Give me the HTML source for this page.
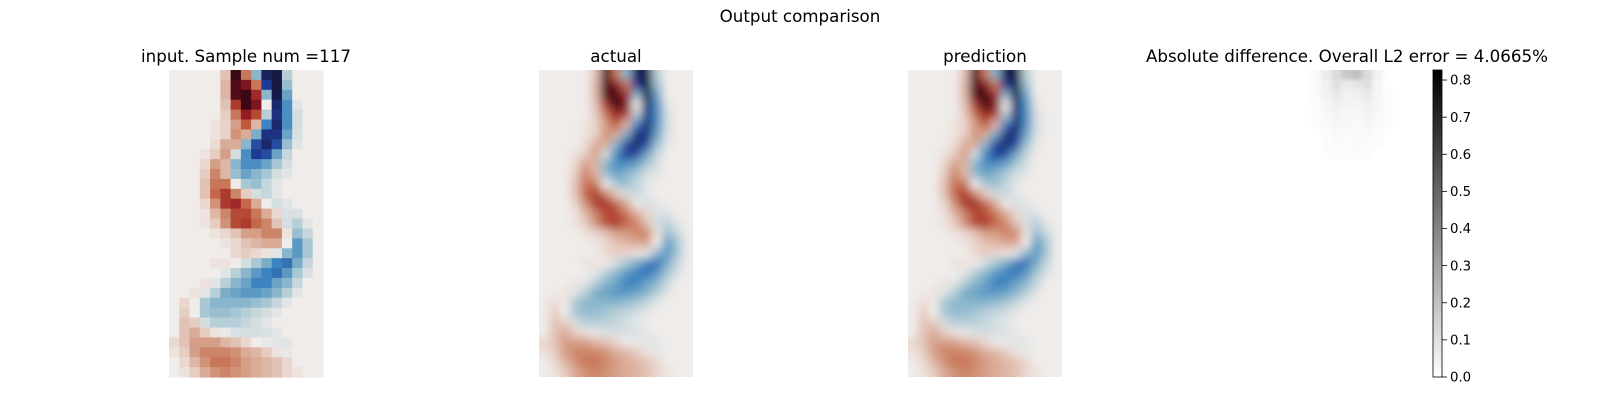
<!DOCTYPE html>
<html><head><meta charset="utf-8"><style>
html,body{margin:0;padding:0;background:#fff;}
svg{display:block;font-family:"DejaVu Sans","Liberation Sans",sans-serif;}
</style></head><body>
<svg id="fig" width="1600" height="400" viewBox="0 0 1600 400">
<defs>
<filter id="blurA" x="-10%" y="-10%" width="120%" height="120%"><feGaussianBlur stdDeviation="4.5"/></filter>
<filter id="blurD" x="-10%" y="-10%" width="120%" height="120%"><feGaussianBlur stdDeviation="2"/></filter>
<linearGradient id="cbgrad" x1="0" y1="1" x2="0" y2="0"><stop offset="0" stop-color="#ffffff"/><stop offset="1" stop-color="#000000"/></linearGradient>
</defs>
<text x="800" y="22" font-size="16.7" text-anchor="middle">Output comparison</text>
<g id="panels"></g>
</svg>
<script>
const inputGrid = [
[0,0,0,0,0,0.2,1.0,0.5,-0.35,-0.95,-1,-0.2,0,0,0],
[0,0,0,0,0,0.25,0.95,0.85,0.5,-0.8,-1,-0.3,0,0,0],
[0,0,0,0,0,0.25,0.95,1,0.75,-0.35,-1,-0.45,0,0,0],
[0,0,0,0,0,0.2,0.7,1,0.85,0,-0.9,-0.55,-0.05,0,0],
[0,0,0,0,0,0.15,0.5,0.8,0.65,-0.2,-0.85,-0.55,-0.1,0,0],
[0,0,0,0,0.05,0.12,0.35,0.6,0.25,-0.6,-0.9,-0.55,-0.1,0,0],
[0,0,0,0,0.05,0.12,0.4,0.3,-0.4,-0.85,-0.85,-0.45,-0.08,0,0],
[0,0,0,0,0.08,0.3,0.3,-0.35,-0.75,-0.9,-0.75,-0.3,-0.05,0,0],
[0,0,0,0.05,0.15,0.35,-0.1,-0.55,-0.8,-0.75,-0.45,-0.15,0,0,0],
[0,0,0,0.1,0.35,0.25,-0.35,-0.55,-0.55,-0.45,-0.25,-0.1,0,0,0],
[0,0,0,0.15,0.45,0.25,-0.3,-0.45,-0.35,-0.25,-0.1,-0.05,0,0,0],
[0,0,0,0.2,0.5,0.5,0,-0.25,-0.3,-0.15,-0.05,0,0,0,0],
[0,0,0,0.2,0.55,0.7,0.45,0.15,-0.1,-0.15,-0.05,0,0,0,0],
[0,0,0,0.1,0.4,0.7,0.75,0.55,0.3,0,-0.1,-0.05,0,0,0],
[0,0,0,0.05,0.25,0.45,0.65,0.65,0.5,0.3,0.1,-0.08,-0.08,0,0],
[0,0,0,0.05,0.15,0.4,0.65,0.7,0.55,0.45,0.2,-0.1,-0.2,-0.05,0],
[0,0,0,0,0.05,0.1,0.2,0.35,0.35,0.45,0.45,0.05,-0.3,-0.15,0],
[0,0,0,0,0,0.05,0.1,0.2,0.25,0.3,0.3,0,-0.5,-0.25,0],
[0,0,0,0,0,0,0.1,0.15,0.1,0.05,-0.05,-0.35,-0.5,-0.25,0],
[0,0,0,0,0.05,0.05,0,-0.1,-0.25,-0.4,-0.6,-0.65,-0.4,-0.15,0],
[0,0,0,0,0,-0.05,-0.2,-0.35,-0.5,-0.6,-0.65,-0.5,-0.25,-0.08,0],
[0,0,0,0.05,-0.05,-0.2,-0.35,-0.45,-0.6,-0.6,-0.45,-0.35,-0.15,0,0],
[0,0,0.05,-0.05,-0.2,-0.4,-0.45,-0.5,-0.5,-0.45,-0.35,-0.2,-0.05,0,0],
[0,0.1,0,-0.25,-0.35,-0.35,-0.35,-0.35,-0.3,-0.25,-0.15,-0.05,0,0,0],
[0,0.15,0,-0.25,-0.3,-0.3,-0.25,-0.2,-0.15,-0.1,-0.05,0,0,0,0],
[0,0.2,0.15,-0.1,-0.2,-0.2,-0.2,-0.15,-0.1,-0.05,0,0,0,0,0],
[0,0.2,0.3,0.15,0.05,-0.03,-0.08,-0.1,-0.1,-0.08,-0.05,0,0,0,0],
[0.1,0.2,0.35,0.35,0.35,0.25,0.2,0.1,0,-0.03,-0.05,-0.05,0,0,0],
[0.05,0.15,0.35,0.45,0.45,0.45,0.4,0.3,0.25,0.15,0.05,-0.03,0,0,0],
[0,0.1,0.25,0.4,0.5,0.5,0.45,0.35,0.3,0.25,0.2,0.1,0,0,0],
[0,0.05,0.15,0.3,0.4,0.45,0.4,0.35,0.3,0.25,0.2,0.1,0.05,0,0]
];
const diffTopRows = [
[0,0,0,0,0.02,0.06,0.12,0.18,0.2,0.12,0.04,0,0,0,0],
[0,0,0,0,0.02,0.05,0.1,0.06,0.08,0.1,0.03,0,0,0,0],
[0,0,0,0,0.02,0.04,0.07,0.04,0.05,0.07,0.03,0.01,0,0,0],
[0,0,0,0,0.01,0.03,0.05,0.04,0.04,0.05,0.03,0.01,0,0,0],
[0,0,0,0,0.01,0.02,0.04,0.03,0.03,0.04,0.02,0.01,0,0,0],
[0,0,0,0,0.01,0.02,0.03,0.03,0.02,0.03,0.02,0.01,0,0,0],
[0,0,0,0,0,0.01,0.02,0.02,0.02,0.02,0.01,0,0,0,0],
[0,0,0,0,0,0.01,0.02,0.01,0.02,0.01,0.01,0,0,0,0],
[0,0,0,0,0,0.01,0.01,0.01,0.01,0.01,0,0,0,0,0]
];
const panelTitles = ["input. Sample num =117","actual","prediction","Absolute difference. Overall L2 error = 4.0665%"];
const cbTicks = [0.0,0.1,0.2,0.3,0.4,0.5,0.6,0.7,0.8];
const cbMax = 0.827;

const NS="http://www.w3.org/2000/svg";
const panelsG=document.getElementById('panels');
const panelX=[169,539,908,1270], imgY=70, imgW=154, imgH=307;
const stops=[[-1,'#171a44'],[-0.8,'#1f3a95'],[-0.6,'#3c84c0'],[-0.4,'#79adc8'],[-0.2,'#b7cfd8'],[0,'#f0ecea'],[0.2,'#e2c2b5'],[0.4,'#d19378'],[0.6,'#c05a3a'],[0.8,'#951a24'],[1,'#3c0714']];
function hex(h){return [1,3,5].map(i=>parseInt(h.substr(i,2),16));}
function cmap(v){
  v=Math.max(-1,Math.min(1,v));
  for(let i=0;i<stops.length-1;i++){
    if(v<=stops[i+1][0]){
      const t=(v-stops[i][0])/(stops[i+1][0]-stops[i][0]);
      const a=hex(stops[i][1]),b=hex(stops[i+1][1]);
      return 'rgb('+a.map((x,k)=>Math.round(x+(b[k]-x)*t)).join(',')+')';
    }
  }
  return stops[stops.length-1][1];
}
function gray(v){const g=Math.round(255*(1-Math.max(0,Math.min(1,v/cbMax))));return 'rgb('+g+','+g+','+g+')';}
function mk(tag,attrs,parent){const e=document.createElementNS(NS,tag);for(const k in attrs)e.setAttribute(k,attrs[k]);parent.appendChild(e);return e;}

function drawGrid(parent,grid,px,colorFn,pad,nRows){
  const rows=nRows,cols=grid[0].length;
  const cw=imgW/cols, ch=imgH/rows;
  for(let r=0;r<rows;r++){
    const row=grid[r]||new Array(cols).fill(0);
    for(let c=0;c<cols;c++){
      let x=px+c*cw,y=imgY+r*ch,w=cw+0.6,h=ch+0.6;
      if(pad){ if(c===0){x-=pad;w+=pad;} if(c===cols-1){w+=pad;} if(r===0){y-=pad;h+=pad;} if(r===rows-1){h+=pad;} }
      const rect=mk('rect',{x:x.toFixed(2),y:y.toFixed(2),width:w.toFixed(2),height:h.toFixed(2),fill:colorFn(row[c])},parent);
      
      
    }
  }
}
function clip(id,px){const cp=mk('clipPath',{id:id},document.querySelector('defs'));mk('rect',{x:px,y:imgY,width:imgW,height:imgH},cp);}

panelTitles.forEach((t,i)=>{
  const cx=panelX[i]+imgW/2;
  const tx=mk('text',{x:cx,y:62,'font-size':16.7,'text-anchor':'middle'},panelsG);
  tx.textContent=t;
  
  
});

const g0=mk('g',{},panelsG);


drawGrid(g0,inputGrid,panelX[0],cmap,0,inputGrid.length);

[1,2].forEach(i=>{
  clip('clip'+i,panelX[i]);
  const outer=mk('g',{'clip-path':'url(#clip'+i+')'},panelsG);
  
  
  const inner=mk('g',{filter:'url(#blurA)'},outer);
  drawGrid(inner,inputGrid,panelX[i],cmap,20,inputGrid.length);
});

clip('clip3',panelX[3]);
const dOuter=mk('g',{'clip-path':'url(#clip3)'},panelsG);


const dInner=mk('g',{filter:'url(#blurD)'},dOuter);
drawGrid(dInner,diffTopRows,panelX[3],gray,20,inputGrid.length);

const cbX=1433,cbW=9;
const cb=mk('g',{},panelsG);


mk('rect',{x:cbX,y:imgY,width:cbW,height:imgH,fill:'url(#cbgrad)',stroke:'#000','stroke-width':0.8},cb);
const cbScale=v=>imgY+imgH-(v/cbMax)*imgH;
cbTicks.forEach(v=>{
  const y=cbScale(v);
  mk('line',{x1:cbX+cbW,x2:cbX+cbW+5,y1:y,y2:y,stroke:'#000','stroke-width':0.8},cb);
  const t=mk('text',{x:cbX+cbW+8,y:y+4.7,'font-size':13.3},cb);
  t.textContent=v.toFixed(1);
  
  
});
</script>
</body></html>
